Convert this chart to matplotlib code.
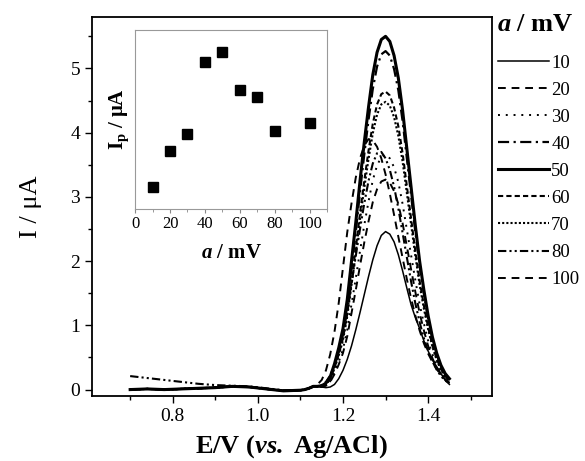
import matplotlib
matplotlib.use("Agg")
import matplotlib.pyplot as plt
from matplotlib.ticker import MultipleLocator
from matplotlib.lines import Line2D

plt.rcParams['font.family'] = ['Liberation Serif', 'DejaVu Serif']
plt.rcParams['mathtext.fontset'] = 'custom'
plt.rcParams['mathtext.rm'] = 'Liberation Serif'
plt.rcParams['mathtext.it'] = 'Liberation Serif:italic'
plt.rcParams['mathtext.bf'] = 'Liberation Serif:bold'
plt.rcParams['mathtext.bfit'] = 'Liberation Serif:bold:italic'

# ---------------- data ----------------
E = [0.70, 0.74, 0.78, 0.82, 0.86, 0.90, 0.94, 0.98, 1.02, 1.06,
     1.10, 1.11, 1.12, 1.13, 1.14, 1.15, 1.16, 1.17, 1.18, 1.19,
     1.20, 1.21, 1.22, 1.23, 1.24, 1.25, 1.26, 1.27, 1.28, 1.29,
     1.30, 1.31, 1.32, 1.33, 1.34, 1.35, 1.36, 1.37, 1.38, 1.39,
     1.40, 1.41, 1.42, 1.43, 1.44, 1.45]

base = [0.00, 0.01, 0.00, 0.01, 0.02, 0.03, 0.05, 0.04, 0.01, -0.02,
        -0.01, 0.00, 0.02, 0.05, 0.05]

I_10 = base + [0.04, 0.03, 0.04, 0.08, 0.17, 0.30, 0.47, 0.68, 0.93, 1.20,
               1.48, 1.76, 2.02, 2.24, 2.40, 2.46, 2.42, 2.30, 2.10, 1.85,
               1.58, 1.32, 1.12, 0.95, 0.76, 0.60, 0.46, 0.36, 0.25, 0.15, 0.08]
I_20 = base + [0.04, 0.06, 0.12, 0.24, 0.39, 0.57, 0.83, 1.19, 1.55, 1.93,
               2.29, 2.62, 2.92, 3.12, 3.24, 3.27, 3.22, 3.09, 2.89, 2.59,
               2.23, 1.87, 1.52, 1.19, 0.92, 0.68, 0.49, 0.34, 0.23, 0.15, 0.10]
I_30 = base + [0.04, 0.07, 0.13, 0.27, 0.43, 0.63, 0.93, 1.33, 1.73, 2.16,
               2.56, 2.93, 3.26, 3.49, 3.62, 3.66, 3.60, 3.46, 3.23, 2.89,
               2.49, 2.09, 1.70, 1.33, 1.03, 0.76, 0.55, 0.38, 0.25, 0.17, 0.11]
I_40 = base + [0.05, 0.09, 0.18, 0.36, 0.60, 0.90, 1.30, 1.88, 2.45, 3.08,
               3.66, 4.20, 4.68, 5.03, 5.22, 5.27, 5.20, 4.99, 4.66, 4.18,
               3.60, 3.02, 2.45, 1.92, 1.49, 1.10, 0.79, 0.55, 0.36, 0.24, 0.16]
I_50 = base + [0.06, 0.10, 0.20, 0.40, 0.65, 0.95, 1.40, 2.00, 2.60, 3.25,
               3.85, 4.40, 4.90, 5.25, 5.45, 5.50, 5.42, 5.20, 4.85, 4.35,
               3.75, 3.15, 2.55, 2.00, 1.55, 1.15, 0.82, 0.57, 0.38, 0.25, 0.17]
I_60 = base + [0.05, 0.08, 0.17, 0.34, 0.55, 0.80, 1.18, 1.69, 2.20, 2.75,
               3.25, 3.72, 4.14, 4.44, 4.60, 4.64, 4.58, 4.39, 4.10, 3.68,
               3.17, 2.66, 2.15, 1.69, 1.31, 0.97, 0.69, 0.48, 0.32, 0.21, 0.14]
I_70 = base + [0.05, 0.08, 0.16, 0.33, 0.53, 0.77, 1.14, 1.63, 2.12, 2.65,
               3.14, 3.59, 3.99, 4.28, 4.44, 4.48, 4.42, 4.24, 3.95, 3.55,
               3.06, 2.57, 2.08, 1.63, 1.26, 0.94, 0.67, 0.46, 0.31, 0.20, 0.14]
I_80 = [0.21, 0.18, 0.15, 0.12, 0.09, 0.07, 0.06, 0.05, 0.02, -0.01,
        -0.01, 0.00, 0.02, 0.04, 0.05,
        0.07, 0.12, 0.22, 0.38, 0.58, 0.85, 1.22, 1.65, 2.08, 2.50,
        2.90, 3.25, 3.52, 3.68, 3.70, 3.60, 3.42, 3.16, 2.82, 2.44,
        2.06, 1.68, 1.34, 1.05, 0.80, 0.60, 0.44, 0.31, 0.21, 0.14, 0.10]
I_100 = [0.00, 0.01, 0.00, 0.01, 0.02, 0.03, 0.05, 0.04, 0.01, -0.02,
         -0.01, 0.00, 0.02, 0.05, 0.08,
         0.15, 0.30, 0.55, 0.90, 1.35, 1.90, 2.45, 2.90, 3.30, 3.60,
         3.80, 3.90, 3.88, 3.78, 3.60, 3.35, 3.05, 2.72, 2.38, 2.05,
         1.72, 1.42, 1.15, 0.92, 0.72, 0.56, 0.43, 0.32, 0.23, 0.16, 0.11]

amp_labels = ['10', '20', '30', '40', '50', '60', '70', '80', '100']
curves = [I_10, I_20, I_30, I_40, I_50, I_60, I_70, I_80, I_100]

inset_a = [10, 20, 30, 40, 50, 60, 70, 80, 100]
inset_Ip = [2.46, 3.27, 3.66, 5.27, 5.50, 4.64, 4.48, 3.72, 3.90]

# ---------------- styles ----------------
styles = [
    dict(ls='-', lw=1.1),
    dict(ls=(0, (4, 3)), lw=1.4),
    dict(ls=(0, (1, 3)), lw=1.4),
    dict(ls=(0, (5, 2, 1, 2)), lw=1.6),
    dict(ls='-', lw=2.2),
    dict(ls=(0, (2.5, 1.5)), lw=1.5),
    dict(ls=(0, (1, 1)), lw=1.5),
    dict(ls=(0, (4, 1.5, 1, 1.5, 1, 1.5)), lw=1.5),
    dict(ls=(0, (4, 3)), lw=1.4),
]

fig = plt.figure(figsize=(5.85, 4.61), dpi=100)
ax = fig.add_axes([0.157, 0.141, 0.684, 0.822])

for I, st in zip(curves, styles):
    ax.plot(E, I, color='black', **st)

ax.set_xlim(0.61, 1.55)
ax.set_ylim(-0.1, 5.8)
ax.xaxis.set_major_locator(MultipleLocator(0.2))
ax.xaxis.set_minor_locator(MultipleLocator(0.1))
ax.yaxis.set_major_locator(MultipleLocator(1))
ax.yaxis.set_minor_locator(MultipleLocator(0.5))
ax.set_xticks([0.8, 1.0, 1.2, 1.4])
ax.set_xticklabels(['0.8', '1.0', '1.2', '1.4'])
ax.tick_params(which='both', direction='out', top=False, right=False, labelsize=14)
ax.tick_params(which='major', length=5, width=1)
ax.tick_params(which='minor', length=3, width=1)
for s in ax.spines.values():
    s.set_linewidth(1.3)

ax.set_xlabel(r'E/V ($\mathbfit{vs.}$ Ag/ACl)', fontsize=19, fontweight='bold', labelpad=6)
ax.set_ylabel('I / μA', fontsize=19, labelpad=20)

# legend
handles = [Line2D([0], [0], color='black', **st) for st in styles]
leg = fig.legend(handles, amp_labels, loc='upper left', bbox_to_anchor=(0.838, 0.898),
                 frameon=False, fontsize=13.5, handlelength=2.75, handletextpad=0.1,
                 labelspacing=0.53, borderaxespad=0)
fig.text(0.849, 0.972, r'$\mathbfit{a}$ / mV', fontsize=19, fontweight='bold',
         ha='left', va='top')

# inset
axin = fig.add_axes([0.231, 0.547, 0.328, 0.388])
axin.plot(inset_a, inset_Ip, ls='none', marker='s', ms=6.5, color='black')
axin.set_xlim(0, 110)
axin.set_ylim(1.96, 6.0)
axin.xaxis.set_major_locator(MultipleLocator(20))
axin.xaxis.set_minor_locator(MultipleLocator(10))
axin.set_yticks([])
axin.tick_params(which='both', direction='out', top=False, right=False, labelsize=12,
                 color='#888888', pad=2)
axin.tick_params(which='major', length=3)
axin.tick_params(which='minor', length=2)
for s in axin.spines.values():
    s.set_color('#999999')
    s.set_linewidth(0.8)
axin.set_xlabel(r'$\mathbfit{a}$ / mV', fontsize=15, fontweight='bold', labelpad=8)
axin.set_ylabel(r'I$_\mathbf{p}$ / μA', fontsize=15, fontweight='bold', labelpad=3)

fig.savefig('out.png', dpi=100)
